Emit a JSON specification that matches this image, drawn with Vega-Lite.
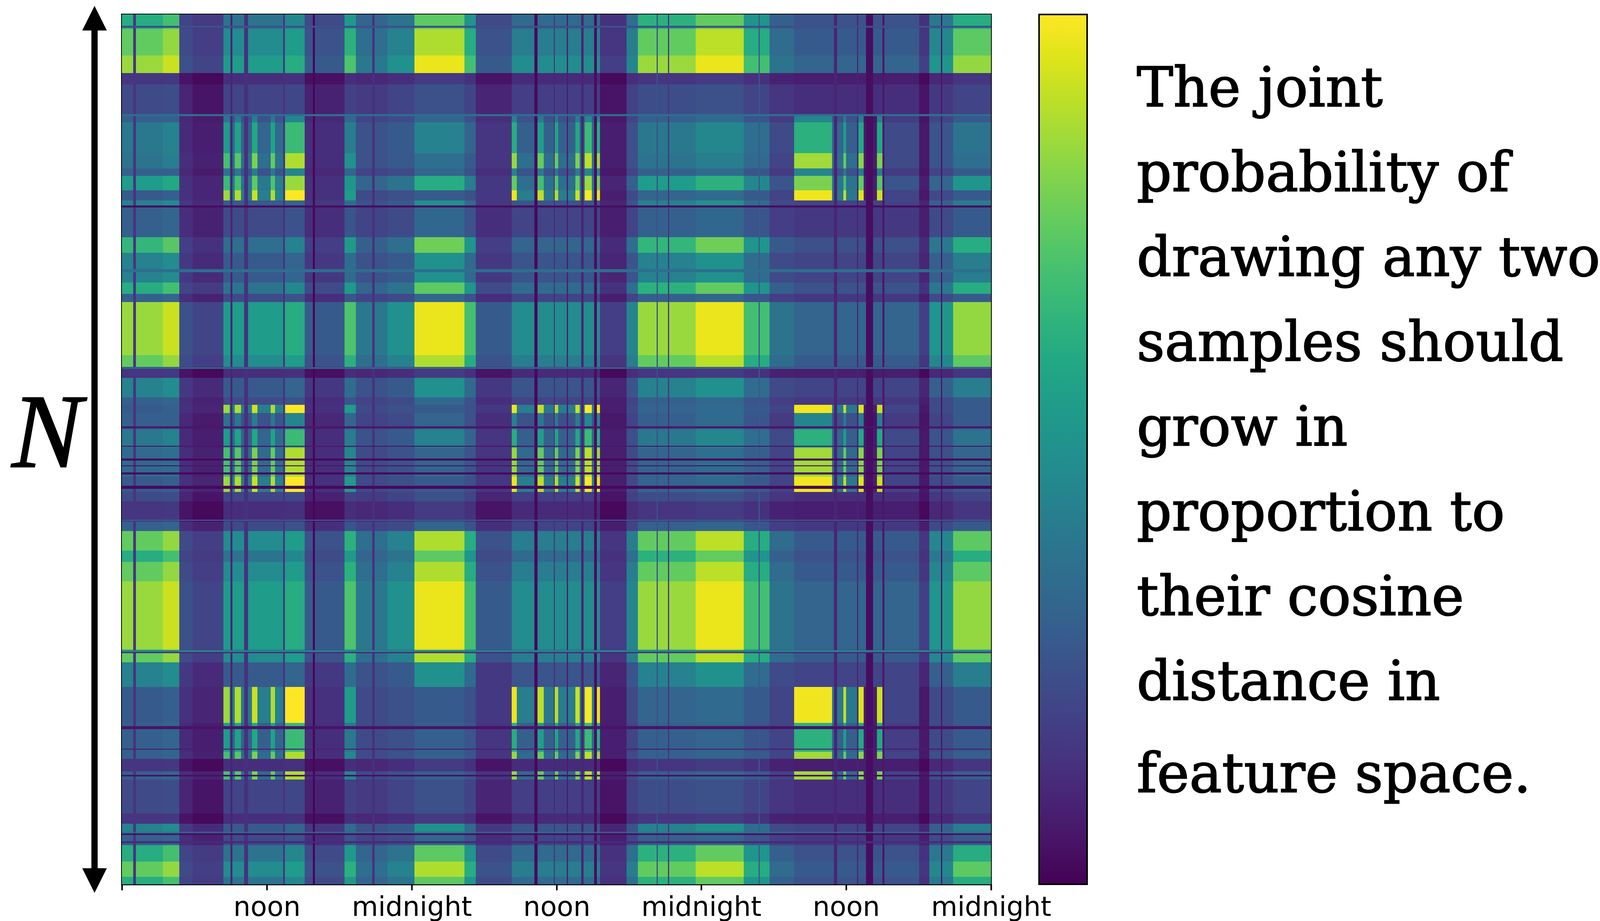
{"$schema":"https://vega.github.io/schema/vega-lite/v6.json","width":2225,"height":2226,"autosize":"none","padding":{"left":312,"top":37,"right":1580,"bottom":94},"background":"white","config":{"view":{"stroke":"black","strokeWidth":4}},"datasets":{"cols":[{"c":0,"a":0,"b":3.40},{"c":1,"a":3.40,"b":4.76},{"c":2,"a":4.76,"b":5.87},{"c":3,"a":5.87,"b":8.42},{"c":4,"a":8.42,"b":13.52},{"c":5,"a":13.52,"b":15.13},{"c":6,"a":15.13,"b":18.45},{"c":7,"a":18.45,"b":19.38},{"c":8,"a":19.38,"b":22.02},{"c":9,"a":22.02,"b":24.23},{"c":10,"a":24.23,"b":28.39},{"c":11,"a":28.39,"b":29.33},{"c":12,"a":29.33,"b":32.30},{"c":13,"a":32.30,"b":39.61},{"c":14,"a":39.61,"b":41.82},{"c":15,"a":41.82,"b":42.76},{"c":16,"a":42.76,"b":47.52},{"c":17,"a":47.52,"b":51.51},{"c":18,"a":51.51,"b":53.64},{"c":19,"a":53.64,"b":55.68},{"c":20,"a":55.68,"b":66.05},{"c":21,"a":66.05,"b":66.90},{"c":22,"a":66.90,"b":68.85},{"c":23,"a":68.85,"b":72},{"c":30,"a":8.42,"b":8.93},{"c":31,"a":8.93,"b":9.35},{"c":32,"a":9.35,"b":9.86},{"c":33,"a":9.86,"b":10.76},{"c":34,"a":10.76,"b":11.22},{"c":35,"a":11.22,"b":12.33},{"c":36,"a":12.33,"b":12.67},{"c":37,"a":12.67,"b":13.52},{"c":38,"a":13.52,"b":15.13},{"c":40,"a":32.30,"b":32.73},{"c":41,"a":32.73,"b":34.43},{"c":42,"a":34.43,"b":34.94},{"c":43,"a":34.94,"b":35.87},{"c":44,"a":35.87,"b":36.13},{"c":45,"a":36.13,"b":37.57},{"c":46,"a":37.57,"b":37.91},{"c":47,"a":37.91,"b":38.34},{"c":48,"a":38.34,"b":38.93},{"c":49,"a":38.93,"b":39.36},{"c":50,"a":39.36,"b":39.61},{"c":51,"a":55.68,"b":58.82},{"c":52,"a":58.82,"b":59.76},{"c":53,"a":59.76,"b":60.01},{"c":54,"a":60.01,"b":61.03},{"c":55,"a":61.03,"b":61.46},{"c":56,"a":61.46,"b":62.56},{"c":57,"a":62.56,"b":62.99},{"c":58,"a":62.99,"b":66.05}],"rows":[{"r":0,"a":0,"b":1.19},{"r":1,"a":1.19,"b":3.40},{"r":2,"a":3.40,"b":4.85},{"r":3,"a":4.85,"b":5.78},{"r":4,"a":5.78,"b":8.25},{"r":5,"a":8.25,"b":8.93},{"r":6,"a":8.93,"b":11.48},{"r":7,"a":11.48,"b":12.75},{"r":8,"a":12.75,"b":13.35},{"r":9,"a":13.35,"b":14.54},{"r":10,"a":14.54,"b":15.39},{"r":11,"a":15.39,"b":15.98},{"r":12,"a":15.98,"b":18.45},{"r":13,"a":18.45,"b":19.72},{"r":14,"a":19.72,"b":22.19},{"r":15,"a":22.19,"b":23.12},{"r":16,"a":23.12,"b":23.80},{"r":17,"a":23.80,"b":28.22},{"r":18,"a":28.22,"b":29.16},{"r":19,"a":29.16,"b":30.09},{"r":20,"a":30.09,"b":31.71},{"r":21,"a":31.71,"b":32.30},{"r":22,"a":32.30,"b":32.98},{"r":23,"a":32.98,"b":34.34},{"r":24,"a":34.34,"b":35.87},{"r":25,"a":35.87,"b":38.25},{"r":26,"a":38.25,"b":39.53},{"r":27,"a":39.53,"b":40.29},{"r":28,"a":40.29,"b":41.99},{"r":29,"a":41.99,"b":42.76},{"r":30,"a":42.76,"b":44.37},{"r":31,"a":44.37,"b":45.31},{"r":32,"a":45.31,"b":46.92},{"r":33,"a":46.92,"b":52.53},{"r":34,"a":52.53,"b":53.64},{"r":35,"a":53.64,"b":55.68},{"r":36,"a":55.68,"b":58.65},{"r":37,"a":58.65,"b":61.03},{"r":38,"a":61.03,"b":61.63},{"r":39,"a":61.63,"b":62.65},{"r":40,"a":62.65,"b":63.33},{"r":41,"a":63.33,"b":66.13},{"r":42,"a":66.13,"b":66.98},{"r":43,"a":66.98,"b":67.83},{"r":44,"a":67.83,"b":68.77},{"r":45,"a":68.77,"b":70.13},{"r":46,"a":70.13,"b":71.40},{"r":47,"a":71.40,"b":72}],"cells":[
{"r":0,"c":0,"v":62},{"r":0,"c":1,"v":70},{"r":0,"c":2,"v":20},{"r":0,"c":3,"v":17},{"r":0,"c":4,"v":38},{"r":0,"c":5,"v":46},{"r":0,"c":6,"v":22},{"r":0,"c":7,"v":54},{"r":0,"c":8,"v":32},{"r":0,"c":9,"v":38},{"r":0,"c":10,"v":75},{"r":0,"c":11,"v":52},{"r":0,"c":12,"v":22},{"r":0,"c":13,"v":34},{"r":0,"c":14,"v":14},{"r":0,"c":15,"v":36},{"r":0,"c":16,"v":64},{"r":0,"c":17,"v":76},{"r":0,"c":18,"v":52},{"r":0,"c":19,"v":30},{"r":0,"c":20,"v":25},{"r":0,"c":21,"v":14},{"r":0,"c":22,"v":40},{"r":0,"c":23,"v":62},
{"r":1,"c":0,"v":76},{"r":1,"c":1,"v":84},{"r":1,"c":2,"v":22},{"r":1,"c":3,"v":18},{"r":1,"c":4,"v":48},{"r":1,"c":5,"v":55},{"r":1,"c":6,"v":25},{"r":1,"c":7,"v":64},{"r":1,"c":8,"v":36},{"r":1,"c":9,"v":44},{"r":1,"c":10,"v":88},{"r":1,"c":11,"v":62},{"r":1,"c":12,"v":25},{"r":1,"c":13,"v":42},{"r":1,"c":14,"v":15},{"r":1,"c":15,"v":42},{"r":1,"c":16,"v":76},{"r":1,"c":17,"v":90},{"r":1,"c":18,"v":62},{"r":1,"c":19,"v":35},{"r":1,"c":20,"v":28},{"r":1,"c":21,"v":15},{"r":1,"c":22,"v":46},{"r":1,"c":23,"v":75},
{"r":2,"c":0,"v":85},{"r":2,"c":1,"v":92},{"r":2,"c":2,"v":24},{"r":2,"c":3,"v":20},{"r":2,"c":4,"v":55},{"r":2,"c":5,"v":62},{"r":2,"c":6,"v":28},{"r":2,"c":7,"v":72},{"r":2,"c":8,"v":40},{"r":2,"c":9,"v":50},{"r":2,"c":10,"v":97},{"r":2,"c":11,"v":70},{"r":2,"c":12,"v":28},{"r":2,"c":13,"v":48},{"r":2,"c":14,"v":18},{"r":2,"c":15,"v":45},{"r":2,"c":16,"v":85},{"r":2,"c":17,"v":97},{"r":2,"c":18,"v":70},{"r":2,"c":19,"v":38},{"r":2,"c":20,"v":32},{"r":2,"c":21,"v":18},{"r":2,"c":22,"v":52},{"r":2,"c":23,"v":84},
{"r":3,"c":0,"v":15},{"r":3,"c":1,"v":16},{"r":3,"c":2,"v":5},{"r":3,"c":3,"v":2},{"r":3,"c":4,"v":13},{"r":3,"c":5,"v":14},{"r":3,"c":6,"v":4},{"r":3,"c":7,"v":13},{"r":3,"c":8,"v":11},{"r":3,"c":9,"v":13},{"r":3,"c":10,"v":17},{"r":3,"c":11,"v":14},{"r":3,"c":12,"v":5},{"r":3,"c":13,"v":12},{"r":3,"c":14,"v":2},{"r":3,"c":15,"v":13},{"r":3,"c":16,"v":15},{"r":3,"c":17,"v":17},{"r":3,"c":18,"v":14},{"r":3,"c":19,"v":9},{"r":3,"c":20,"v":8},{"r":3,"c":21,"v":2},{"r":3,"c":22,"v":11},{"r":3,"c":23,"v":15},
{"r":4,"c":0,"v":22},{"r":4,"c":1,"v":23},{"r":4,"c":2,"v":10},{"r":4,"c":3,"v":5},{"r":4,"c":4,"v":20},{"r":4,"c":5,"v":21},{"r":4,"c":6,"v":9},{"r":4,"c":7,"v":19},{"r":4,"c":8,"v":17},{"r":4,"c":9,"v":20},{"r":4,"c":10,"v":24},{"r":4,"c":11,"v":20},{"r":4,"c":12,"v":10},{"r":4,"c":13,"v":18},{"r":4,"c":14,"v":5},{"r":4,"c":15,"v":19},{"r":4,"c":16,"v":23},{"r":4,"c":17,"v":24},{"r":4,"c":18,"v":20},{"r":4,"c":19,"v":15},{"r":4,"c":20,"v":13},{"r":4,"c":21,"v":5},{"r":4,"c":22,"v":16},{"r":4,"c":23,"v":20},
{"r":5,"c":0,"v":30},{"r":5,"c":1,"v":30},{"r":5,"c":2,"v":11},{"r":5,"c":3,"v":7},{"r":5,"c":30,"v":38},{"r":5,"c":31,"v":25},{"r":5,"c":32,"v":40},{"r":5,"c":33,"v":24},{"r":5,"c":34,"v":42},{"r":5,"c":35,"v":25},{"r":5,"c":36,"v":40},{"r":5,"c":37,"v":26},{"r":5,"c":38,"v":45},{"r":5,"c":6,"v":11},{"r":5,"c":7,"v":32},{"r":5,"c":8,"v":20},{"r":5,"c":9,"v":22},{"r":5,"c":10,"v":32},{"r":5,"c":11,"v":24},{"r":5,"c":12,"v":13},{"r":5,"c":40,"v":44},{"r":5,"c":41,"v":25},{"r":5,"c":42,"v":40},{"r":5,"c":43,"v":24},{"r":5,"c":44,"v":40},{"r":5,"c":45,"v":24},{"r":5,"c":46,"v":42},{"r":5,"c":47,"v":24},{"r":5,"c":48,"v":46},{"r":5,"c":49,"v":26},{"r":5,"c":50,"v":44},{"r":5,"c":14,"v":6},{"r":5,"c":15,"v":20},{"r":5,"c":16,"v":30},{"r":5,"c":17,"v":34},{"r":5,"c":18,"v":26},{"r":5,"c":19,"v":17},{"r":5,"c":51,"v":45},{"r":5,"c":52,"v":24},{"r":5,"c":53,"v":40},{"r":5,"c":54,"v":24},{"r":5,"c":55,"v":42},{"r":5,"c":56,"v":5},{"r":5,"c":57,"v":42},{"r":5,"c":58,"v":17},{"r":5,"c":21,"v":5},{"r":5,"c":22,"v":20},{"r":5,"c":23,"v":28},
{"r":6,"c":0,"v":40},{"r":6,"c":1,"v":44},{"r":6,"c":2,"v":12},{"r":6,"c":3,"v":8},{"r":6,"c":30,"v":55},{"r":6,"c":31,"v":32},{"r":6,"c":32,"v":58},{"r":6,"c":33,"v":30},{"r":6,"c":34,"v":60},{"r":6,"c":35,"v":32},{"r":6,"c":36,"v":58},{"r":6,"c":37,"v":34},{"r":6,"c":38,"v":68},{"r":6,"c":6,"v":13},{"r":6,"c":7,"v":42},{"r":6,"c":8,"v":25},{"r":6,"c":9,"v":28},{"r":6,"c":10,"v":44},{"r":6,"c":11,"v":32},{"r":6,"c":12,"v":15},{"r":6,"c":40,"v":62},{"r":6,"c":41,"v":30},{"r":6,"c":42,"v":56},{"r":6,"c":43,"v":30},{"r":6,"c":44,"v":58},{"r":6,"c":45,"v":30},{"r":6,"c":46,"v":60},{"r":6,"c":47,"v":30},{"r":6,"c":48,"v":68},{"r":6,"c":49,"v":32},{"r":6,"c":50,"v":62},{"r":6,"c":14,"v":8},{"r":6,"c":15,"v":24},{"r":6,"c":16,"v":40},{"r":6,"c":17,"v":46},{"r":6,"c":18,"v":36},{"r":6,"c":19,"v":22},{"r":6,"c":51,"v":64},{"r":6,"c":52,"v":32},{"r":6,"c":53,"v":56},{"r":6,"c":54,"v":30},{"r":6,"c":55,"v":60},{"r":6,"c":56,"v":7},{"r":6,"c":57,"v":60},{"r":6,"c":58,"v":22},{"r":6,"c":21,"v":6},{"r":6,"c":22,"v":26},{"r":6,"c":23,"v":38},
{"r":7,"c":0,"v":38},{"r":7,"c":1,"v":42},{"r":7,"c":2,"v":13},{"r":7,"c":3,"v":9},{"r":7,"c":30,"v":70},{"r":7,"c":31,"v":36},{"r":7,"c":32,"v":74},{"r":7,"c":33,"v":36},{"r":7,"c":34,"v":80},{"r":7,"c":35,"v":36},{"r":7,"c":36,"v":76},{"r":7,"c":37,"v":38},{"r":7,"c":38,"v":88},{"r":7,"c":6,"v":13},{"r":7,"c":7,"v":50},{"r":7,"c":8,"v":25},{"r":7,"c":9,"v":28},{"r":7,"c":10,"v":36},{"r":7,"c":11,"v":28},{"r":7,"c":12,"v":15},{"r":7,"c":40,"v":84},{"r":7,"c":41,"v":36},{"r":7,"c":42,"v":76},{"r":7,"c":43,"v":36},{"r":7,"c":44,"v":76},{"r":7,"c":45,"v":36},{"r":7,"c":46,"v":80},{"r":7,"c":47,"v":36},{"r":7,"c":48,"v":90},{"r":7,"c":49,"v":38},{"r":7,"c":50,"v":84},{"r":7,"c":14,"v":8},{"r":7,"c":15,"v":24},{"r":7,"c":16,"v":38},{"r":7,"c":17,"v":42},{"r":7,"c":18,"v":34},{"r":7,"c":19,"v":20},{"r":7,"c":51,"v":86},{"r":7,"c":52,"v":36},{"r":7,"c":53,"v":76},{"r":7,"c":54,"v":36},{"r":7,"c":55,"v":82},{"r":7,"c":56,"v":8},{"r":7,"c":57,"v":80},{"r":7,"c":58,"v":22},{"r":7,"c":21,"v":6},{"r":7,"c":22,"v":26},{"r":7,"c":23,"v":36},
{"r":8,"c":0,"v":30},{"r":8,"c":1,"v":30},{"r":8,"c":2,"v":11},{"r":8,"c":3,"v":7},{"r":8,"c":30,"v":38},{"r":8,"c":31,"v":25},{"r":8,"c":32,"v":40},{"r":8,"c":33,"v":24},{"r":8,"c":34,"v":42},{"r":8,"c":35,"v":25},{"r":8,"c":36,"v":40},{"r":8,"c":37,"v":26},{"r":8,"c":38,"v":45},{"r":8,"c":6,"v":11},{"r":8,"c":7,"v":32},{"r":8,"c":8,"v":20},{"r":8,"c":9,"v":22},{"r":8,"c":10,"v":32},{"r":8,"c":11,"v":24},{"r":8,"c":12,"v":13},{"r":8,"c":40,"v":44},{"r":8,"c":41,"v":25},{"r":8,"c":42,"v":40},{"r":8,"c":43,"v":24},{"r":8,"c":44,"v":40},{"r":8,"c":45,"v":24},{"r":8,"c":46,"v":42},{"r":8,"c":47,"v":24},{"r":8,"c":48,"v":46},{"r":8,"c":49,"v":26},{"r":8,"c":50,"v":44},{"r":8,"c":14,"v":6},{"r":8,"c":15,"v":20},{"r":8,"c":16,"v":30},{"r":8,"c":17,"v":34},{"r":8,"c":18,"v":26},{"r":8,"c":19,"v":17},{"r":8,"c":51,"v":45},{"r":8,"c":52,"v":24},{"r":8,"c":53,"v":40},{"r":8,"c":54,"v":24},{"r":8,"c":55,"v":42},{"r":8,"c":56,"v":5},{"r":8,"c":57,"v":42},{"r":8,"c":58,"v":17},{"r":8,"c":21,"v":5},{"r":8,"c":22,"v":20},{"r":8,"c":23,"v":28},
{"r":9,"c":0,"v":55},{"r":9,"c":1,"v":60},{"r":9,"c":2,"v":14},{"r":9,"c":3,"v":10},{"r":9,"c":30,"v":68},{"r":9,"c":31,"v":40},{"r":9,"c":32,"v":70},{"r":9,"c":33,"v":38},{"r":9,"c":34,"v":75},{"r":9,"c":35,"v":40},{"r":9,"c":36,"v":72},{"r":9,"c":37,"v":42},{"r":9,"c":38,"v":85},{"r":9,"c":6,"v":14},{"r":9,"c":7,"v":52},{"r":9,"c":8,"v":32},{"r":9,"c":9,"v":38},{"r":9,"c":10,"v":62},{"r":9,"c":11,"v":42},{"r":9,"c":12,"v":16},{"r":9,"c":40,"v":76},{"r":9,"c":41,"v":36},{"r":9,"c":42,"v":70},{"r":9,"c":43,"v":36},{"r":9,"c":44,"v":72},{"r":9,"c":45,"v":36},{"r":9,"c":46,"v":76},{"r":9,"c":47,"v":36},{"r":9,"c":48,"v":85},{"r":9,"c":49,"v":38},{"r":9,"c":50,"v":78},{"r":9,"c":14,"v":10},{"r":9,"c":15,"v":30},{"r":9,"c":16,"v":55},{"r":9,"c":17,"v":64},{"r":9,"c":18,"v":46},{"r":9,"c":19,"v":26},{"r":9,"c":51,"v":80},{"r":9,"c":52,"v":38},{"r":9,"c":53,"v":70},{"r":9,"c":54,"v":38},{"r":9,"c":55,"v":76},{"r":9,"c":56,"v":8},{"r":9,"c":57,"v":74},{"r":9,"c":58,"v":26},{"r":9,"c":21,"v":8},{"r":9,"c":22,"v":32},{"r":9,"c":23,"v":52},
{"r":10,"c":0,"v":28},{"r":10,"c":1,"v":30},{"r":10,"c":2,"v":14},{"r":10,"c":3,"v":10},{"r":10,"c":30,"v":85},{"r":10,"c":31,"v":42},{"r":10,"c":32,"v":88},{"r":10,"c":33,"v":40},{"r":10,"c":34,"v":92},{"r":10,"c":35,"v":42},{"r":10,"c":36,"v":88},{"r":10,"c":37,"v":44},{"r":10,"c":38,"v":100},{"r":10,"c":6,"v":14},{"r":10,"c":7,"v":55},{"r":10,"c":8,"v":22},{"r":10,"c":9,"v":24},{"r":10,"c":10,"v":28},{"r":10,"c":11,"v":24},{"r":10,"c":12,"v":16},{"r":10,"c":40,"v":97},{"r":10,"c":41,"v":42},{"r":10,"c":42,"v":90},{"r":10,"c":43,"v":40},{"r":10,"c":44,"v":88},{"r":10,"c":45,"v":42},{"r":10,"c":46,"v":92},{"r":10,"c":47,"v":40},{"r":10,"c":48,"v":100},{"r":10,"c":49,"v":44},{"r":10,"c":50,"v":96},{"r":10,"c":14,"v":8},{"r":10,"c":15,"v":22},{"r":10,"c":16,"v":32},{"r":10,"c":17,"v":34},{"r":10,"c":18,"v":28},{"r":10,"c":19,"v":20},{"r":10,"c":51,"v":98},{"r":10,"c":52,"v":40},{"r":10,"c":53,"v":90},{"r":10,"c":54,"v":40},{"r":10,"c":55,"v":95},{"r":10,"c":56,"v":8},{"r":10,"c":57,"v":92},{"r":10,"c":58,"v":20},{"r":10,"c":21,"v":6},{"r":10,"c":22,"v":22},{"r":10,"c":23,"v":28},
{"r":11,"c":0,"v":44},{"r":11,"c":1,"v":48},{"r":11,"c":2,"v":16},{"r":11,"c":3,"v":12},{"r":11,"c":4,"v":28},{"r":11,"c":5,"v":32},{"r":11,"c":6,"v":16},{"r":11,"c":7,"v":35},{"r":11,"c":8,"v":25},{"r":11,"c":9,"v":28},{"r":11,"c":10,"v":50},{"r":11,"c":11,"v":34},{"r":11,"c":12,"v":16},{"r":11,"c":13,"v":26},{"r":11,"c":14,"v":10},{"r":11,"c":15,"v":26},{"r":11,"c":16,"v":44},{"r":11,"c":17,"v":50},{"r":11,"c":18,"v":35},{"r":11,"c":19,"v":22},{"r":11,"c":20,"v":20},{"r":11,"c":21,"v":10},{"r":11,"c":22,"v":30},{"r":11,"c":23,"v":42},
{"r":12,"c":0,"v":30},{"r":12,"c":1,"v":32},{"r":12,"c":2,"v":13},{"r":12,"c":3,"v":9},{"r":12,"c":4,"v":22},{"r":12,"c":5,"v":25},{"r":12,"c":6,"v":13},{"r":12,"c":7,"v":26},{"r":12,"c":8,"v":20},{"r":12,"c":9,"v":22},{"r":12,"c":10,"v":33},{"r":12,"c":11,"v":25},{"r":12,"c":12,"v":13},{"r":12,"c":13,"v":20},{"r":12,"c":14,"v":8},{"r":12,"c":15,"v":20},{"r":12,"c":16,"v":30},{"r":12,"c":17,"v":33},{"r":12,"c":18,"v":26},{"r":12,"c":19,"v":18},{"r":12,"c":20,"v":16},{"r":12,"c":21,"v":8},{"r":12,"c":22,"v":22},{"r":12,"c":23,"v":28},
{"r":13,"c":0,"v":66},{"r":13,"c":1,"v":74},{"r":13,"c":2,"v":18},{"r":13,"c":3,"v":14},{"r":13,"c":4,"v":36},{"r":13,"c":5,"v":44},{"r":13,"c":6,"v":18},{"r":13,"c":7,"v":54},{"r":13,"c":8,"v":30},{"r":13,"c":9,"v":36},{"r":13,"c":10,"v":78},{"r":13,"c":11,"v":52},{"r":13,"c":12,"v":18},{"r":13,"c":13,"v":32},{"r":13,"c":14,"v":12},{"r":13,"c":15,"v":36},{"r":13,"c":16,"v":66},{"r":13,"c":17,"v":78},{"r":13,"c":18,"v":52},{"r":13,"c":19,"v":28},{"r":13,"c":20,"v":24},{"r":13,"c":21,"v":12},{"r":13,"c":22,"v":40},{"r":13,"c":23,"v":62},
{"r":14,"c":0,"v":44},{"r":14,"c":1,"v":48},{"r":14,"c":2,"v":16},{"r":14,"c":3,"v":12},{"r":14,"c":4,"v":28},{"r":14,"c":5,"v":32},{"r":14,"c":6,"v":16},{"r":14,"c":7,"v":35},{"r":14,"c":8,"v":25},{"r":14,"c":9,"v":28},{"r":14,"c":10,"v":50},{"r":14,"c":11,"v":34},{"r":14,"c":12,"v":16},{"r":14,"c":13,"v":26},{"r":14,"c":14,"v":10},{"r":14,"c":15,"v":26},{"r":14,"c":16,"v":44},{"r":14,"c":17,"v":50},{"r":14,"c":18,"v":35},{"r":14,"c":19,"v":22},{"r":14,"c":20,"v":20},{"r":14,"c":21,"v":10},{"r":14,"c":22,"v":30},{"r":14,"c":23,"v":42},
{"r":15,"c":0,"v":62},{"r":15,"c":1,"v":70},{"r":15,"c":2,"v":20},{"r":15,"c":3,"v":17},{"r":15,"c":4,"v":38},{"r":15,"c":5,"v":46},{"r":15,"c":6,"v":22},{"r":15,"c":7,"v":54},{"r":15,"c":8,"v":32},{"r":15,"c":9,"v":38},{"r":15,"c":10,"v":75},{"r":15,"c":11,"v":52},{"r":15,"c":12,"v":22},{"r":15,"c":13,"v":34},{"r":15,"c":14,"v":14},{"r":15,"c":15,"v":36},{"r":15,"c":16,"v":64},{"r":15,"c":17,"v":76},{"r":15,"c":18,"v":52},{"r":15,"c":19,"v":30},{"r":15,"c":20,"v":25},{"r":15,"c":21,"v":14},{"r":15,"c":22,"v":40},{"r":15,"c":23,"v":62},
{"r":16,"c":0,"v":30},{"r":16,"c":1,"v":32},{"r":16,"c":2,"v":13},{"r":16,"c":3,"v":9},{"r":16,"c":4,"v":22},{"r":16,"c":5,"v":25},{"r":16,"c":6,"v":13},{"r":16,"c":7,"v":26},{"r":16,"c":8,"v":20},{"r":16,"c":9,"v":22},{"r":16,"c":10,"v":33},{"r":16,"c":11,"v":25},{"r":16,"c":12,"v":13},{"r":16,"c":13,"v":20},{"r":16,"c":14,"v":8},{"r":16,"c":15,"v":20},{"r":16,"c":16,"v":30},{"r":16,"c":17,"v":33},{"r":16,"c":18,"v":26},{"r":16,"c":19,"v":18},{"r":16,"c":20,"v":16},{"r":16,"c":21,"v":8},{"r":16,"c":22,"v":22},{"r":16,"c":23,"v":28},
{"r":17,"c":0,"v":85},{"r":17,"c":1,"v":92},{"r":17,"c":2,"v":24},{"r":17,"c":3,"v":20},{"r":17,"c":4,"v":55},{"r":17,"c":5,"v":62},{"r":17,"c":6,"v":28},{"r":17,"c":7,"v":72},{"r":17,"c":8,"v":40},{"r":17,"c":9,"v":50},{"r":17,"c":10,"v":97},{"r":17,"c":11,"v":70},{"r":17,"c":12,"v":28},{"r":17,"c":13,"v":48},{"r":17,"c":14,"v":18},{"r":17,"c":15,"v":45},{"r":17,"c":16,"v":85},{"r":17,"c":17,"v":97},{"r":17,"c":18,"v":70},{"r":17,"c":19,"v":38},{"r":17,"c":20,"v":32},{"r":17,"c":21,"v":18},{"r":17,"c":22,"v":52},{"r":17,"c":23,"v":84},
{"r":18,"c":0,"v":76},{"r":18,"c":1,"v":84},{"r":18,"c":2,"v":22},{"r":18,"c":3,"v":18},{"r":18,"c":4,"v":48},{"r":18,"c":5,"v":55},{"r":18,"c":6,"v":25},{"r":18,"c":7,"v":64},{"r":18,"c":8,"v":36},{"r":18,"c":9,"v":44},{"r":18,"c":10,"v":88},{"r":18,"c":11,"v":62},{"r":18,"c":12,"v":25},{"r":18,"c":13,"v":42},{"r":18,"c":14,"v":15},{"r":18,"c":15,"v":42},{"r":18,"c":16,"v":76},{"r":18,"c":17,"v":90},{"r":18,"c":18,"v":62},{"r":18,"c":19,"v":35},{"r":18,"c":20,"v":28},{"r":18,"c":21,"v":15},{"r":18,"c":22,"v":46},{"r":18,"c":23,"v":75},
{"r":19,"c":0,"v":15},{"r":19,"c":1,"v":16},{"r":19,"c":2,"v":5},{"r":19,"c":3,"v":2},{"r":19,"c":4,"v":13},{"r":19,"c":5,"v":14},{"r":19,"c":6,"v":4},{"r":19,"c":7,"v":13},{"r":19,"c":8,"v":11},{"r":19,"c":9,"v":13},{"r":19,"c":10,"v":17},{"r":19,"c":11,"v":14},{"r":19,"c":12,"v":5},{"r":19,"c":13,"v":12},{"r":19,"c":14,"v":2},{"r":19,"c":15,"v":13},{"r":19,"c":16,"v":15},{"r":19,"c":17,"v":17},{"r":19,"c":18,"v":14},{"r":19,"c":19,"v":9},{"r":19,"c":20,"v":8},{"r":19,"c":21,"v":2},{"r":19,"c":22,"v":11},{"r":19,"c":23,"v":15},
{"r":20,"c":0,"v":44},{"r":20,"c":1,"v":48},{"r":20,"c":2,"v":16},{"r":20,"c":3,"v":12},{"r":20,"c":4,"v":28},{"r":20,"c":5,"v":32},{"r":20,"c":6,"v":16},{"r":20,"c":7,"v":35},{"r":20,"c":8,"v":25},{"r":20,"c":9,"v":28},{"r":20,"c":10,"v":50},{"r":20,"c":11,"v":34},{"r":20,"c":12,"v":16},{"r":20,"c":13,"v":26},{"r":20,"c":14,"v":10},{"r":20,"c":15,"v":26},{"r":20,"c":16,"v":44},{"r":20,"c":17,"v":50},{"r":20,"c":18,"v":35},{"r":20,"c":19,"v":22},{"r":20,"c":20,"v":20},{"r":20,"c":21,"v":10},{"r":20,"c":22,"v":30},{"r":20,"c":23,"v":42},
{"r":21,"c":0,"v":30},{"r":21,"c":1,"v":32},{"r":21,"c":2,"v":13},{"r":21,"c":3,"v":9},{"r":21,"c":4,"v":22},{"r":21,"c":5,"v":25},{"r":21,"c":6,"v":13},{"r":21,"c":7,"v":26},{"r":21,"c":8,"v":20},{"r":21,"c":9,"v":22},{"r":21,"c":10,"v":33},{"r":21,"c":11,"v":25},{"r":21,"c":12,"v":13},{"r":21,"c":13,"v":20},{"r":21,"c":14,"v":8},{"r":21,"c":15,"v":20},{"r":21,"c":16,"v":30},{"r":21,"c":17,"v":33},{"r":21,"c":18,"v":26},{"r":21,"c":19,"v":18},{"r":21,"c":20,"v":16},{"r":21,"c":21,"v":8},{"r":21,"c":22,"v":22},{"r":21,"c":23,"v":28},
{"r":22,"c":0,"v":28},{"r":22,"c":1,"v":30},{"r":22,"c":2,"v":14},{"r":22,"c":3,"v":10},{"r":22,"c":30,"v":85},{"r":22,"c":31,"v":42},{"r":22,"c":32,"v":88},{"r":22,"c":33,"v":40},{"r":22,"c":34,"v":92},{"r":22,"c":35,"v":42},{"r":22,"c":36,"v":88},{"r":22,"c":37,"v":44},{"r":22,"c":38,"v":100},{"r":22,"c":6,"v":14},{"r":22,"c":7,"v":55},{"r":22,"c":8,"v":22},{"r":22,"c":9,"v":24},{"r":22,"c":10,"v":28},{"r":22,"c":11,"v":24},{"r":22,"c":12,"v":16},{"r":22,"c":40,"v":97},{"r":22,"c":41,"v":42},{"r":22,"c":42,"v":90},{"r":22,"c":43,"v":40},{"r":22,"c":44,"v":88},{"r":22,"c":45,"v":42},{"r":22,"c":46,"v":92},{"r":22,"c":47,"v":40},{"r":22,"c":48,"v":100},{"r":22,"c":49,"v":44},{"r":22,"c":50,"v":96},{"r":22,"c":14,"v":8},{"r":22,"c":15,"v":22},{"r":22,"c":16,"v":32},{"r":22,"c":17,"v":34},{"r":22,"c":18,"v":28},{"r":22,"c":19,"v":20},{"r":22,"c":51,"v":98},{"r":22,"c":52,"v":40},{"r":22,"c":53,"v":90},{"r":22,"c":54,"v":40},{"r":22,"c":55,"v":95},{"r":22,"c":56,"v":8},{"r":22,"c":57,"v":92},{"r":22,"c":58,"v":20},{"r":22,"c":21,"v":6},{"r":22,"c":22,"v":22},{"r":22,"c":23,"v":28},
{"r":23,"c":0,"v":30},{"r":23,"c":1,"v":30},{"r":23,"c":2,"v":11},{"r":23,"c":3,"v":7},{"r":23,"c":30,"v":38},{"r":23,"c":31,"v":25},{"r":23,"c":32,"v":40},{"r":23,"c":33,"v":24},{"r":23,"c":34,"v":42},{"r":23,"c":35,"v":25},{"r":23,"c":36,"v":40},{"r":23,"c":37,"v":26},{"r":23,"c":38,"v":45},{"r":23,"c":6,"v":11},{"r":23,"c":7,"v":32},{"r":23,"c":8,"v":20},{"r":23,"c":9,"v":22},{"r":23,"c":10,"v":32},{"r":23,"c":11,"v":24},{"r":23,"c":12,"v":13},{"r":23,"c":40,"v":44},{"r":23,"c":41,"v":25},{"r":23,"c":42,"v":40},{"r":23,"c":43,"v":24},{"r":23,"c":44,"v":40},{"r":23,"c":45,"v":24},{"r":23,"c":46,"v":42},{"r":23,"c":47,"v":24},{"r":23,"c":48,"v":46},{"r":23,"c":49,"v":26},{"r":23,"c":50,"v":44},{"r":23,"c":14,"v":6},{"r":23,"c":15,"v":20},{"r":23,"c":16,"v":30},{"r":23,"c":17,"v":34},{"r":23,"c":18,"v":26},{"r":23,"c":19,"v":17},{"r":23,"c":51,"v":45},{"r":23,"c":52,"v":24},{"r":23,"c":53,"v":40},{"r":23,"c":54,"v":24},{"r":23,"c":55,"v":42},{"r":23,"c":56,"v":5},{"r":23,"c":57,"v":42},{"r":23,"c":58,"v":17},{"r":23,"c":21,"v":5},{"r":23,"c":22,"v":20},{"r":23,"c":23,"v":28},
{"r":24,"c":0,"v":40},{"r":24,"c":1,"v":44},{"r":24,"c":2,"v":12},{"r":24,"c":3,"v":8},{"r":24,"c":30,"v":55},{"r":24,"c":31,"v":32},{"r":24,"c":32,"v":58},{"r":24,"c":33,"v":30},{"r":24,"c":34,"v":60},{"r":24,"c":35,"v":32},{"r":24,"c":36,"v":58},{"r":24,"c":37,"v":34},{"r":24,"c":38,"v":68},{"r":24,"c":6,"v":13},{"r":24,"c":7,"v":42},{"r":24,"c":8,"v":25},{"r":24,"c":9,"v":28},{"r":24,"c":10,"v":44},{"r":24,"c":11,"v":32},{"r":24,"c":12,"v":15},{"r":24,"c":40,"v":62},{"r":24,"c":41,"v":30},{"r":24,"c":42,"v":56},{"r":24,"c":43,"v":30},{"r":24,"c":44,"v":58},{"r":24,"c":45,"v":30},{"r":24,"c":46,"v":60},{"r":24,"c":47,"v":30},{"r":24,"c":48,"v":68},{"r":24,"c":49,"v":32},{"r":24,"c":50,"v":62},{"r":24,"c":14,"v":8},{"r":24,"c":15,"v":24},{"r":24,"c":16,"v":40},{"r":24,"c":17,"v":46},{"r":24,"c":18,"v":36},{"r":24,"c":19,"v":22},{"r":24,"c":51,"v":64},{"r":24,"c":52,"v":32},{"r":24,"c":53,"v":56},{"r":24,"c":54,"v":30},{"r":24,"c":55,"v":60},{"r":24,"c":56,"v":7},{"r":24,"c":57,"v":60},{"r":24,"c":58,"v":22},{"r":24,"c":21,"v":6},{"r":24,"c":22,"v":26},{"r":24,"c":23,"v":38},
{"r":25,"c":0,"v":34},{"r":25,"c":1,"v":36},{"r":25,"c":2,"v":13},{"r":25,"c":3,"v":9},{"r":25,"c":30,"v":70},{"r":25,"c":31,"v":34},{"r":25,"c":32,"v":74},{"r":25,"c":33,"v":34},{"r":25,"c":34,"v":80},{"r":25,"c":35,"v":34},{"r":25,"c":36,"v":76},{"r":25,"c":37,"v":36},{"r":25,"c":38,"v":88},{"r":25,"c":6,"v":13},{"r":25,"c":7,"v":46},{"r":25,"c":8,"v":22},{"r":25,"c":9,"v":25},{"r":25,"c":10,"v":32},{"r":25,"c":11,"v":26},{"r":25,"c":12,"v":15},{"r":25,"c":40,"v":84},{"r":25,"c":41,"v":34},{"r":25,"c":42,"v":76},{"r":25,"c":43,"v":34},{"r":25,"c":44,"v":76},{"r":25,"c":45,"v":34},{"r":25,"c":46,"v":80},{"r":25,"c":47,"v":34},{"r":25,"c":48,"v":90},{"r":25,"c":49,"v":36},{"r":25,"c":50,"v":84},{"r":25,"c":14,"v":8},{"r":25,"c":15,"v":22},{"r":25,"c":16,"v":32},{"r":25,"c":17,"v":36},{"r":25,"c":18,"v":30},{"r":25,"c":19,"v":20},{"r":25,"c":51,"v":86},{"r":25,"c":52,"v":34},{"r":25,"c":53,"v":76},{"r":25,"c":54,"v":34},{"r":25,"c":55,"v":82},{"r":25,"c":56,"v":8},{"r":25,"c":57,"v":80},{"r":25,"c":58,"v":20},{"r":25,"c":21,"v":6},{"r":25,"c":22,"v":24},{"r":25,"c":23,"v":32},
{"r":26,"c":0,"v":28},{"r":26,"c":1,"v":30},{"r":26,"c":2,"v":14},{"r":26,"c":3,"v":10},{"r":26,"c":30,"v":85},{"r":26,"c":31,"v":42},{"r":26,"c":32,"v":88},{"r":26,"c":33,"v":40},{"r":26,"c":34,"v":92},{"r":26,"c":35,"v":42},{"r":26,"c":36,"v":88},{"r":26,"c":37,"v":44},{"r":26,"c":38,"v":100},{"r":26,"c":6,"v":14},{"r":26,"c":7,"v":55},{"r":26,"c":8,"v":22},{"r":26,"c":9,"v":24},{"r":26,"c":10,"v":28},{"r":26,"c":11,"v":24},{"r":26,"c":12,"v":16},{"r":26,"c":40,"v":97},{"r":26,"c":41,"v":42},{"r":26,"c":42,"v":90},{"r":26,"c":43,"v":40},{"r":26,"c":44,"v":88},{"r":26,"c":45,"v":42},{"r":26,"c":46,"v":92},{"r":26,"c":47,"v":40},{"r":26,"c":48,"v":100},{"r":26,"c":49,"v":44},{"r":26,"c":50,"v":96},{"r":26,"c":14,"v":8},{"r":26,"c":15,"v":22},{"r":26,"c":16,"v":32},{"r":26,"c":17,"v":34},{"r":26,"c":18,"v":28},{"r":26,"c":19,"v":20},{"r":26,"c":51,"v":98},{"r":26,"c":52,"v":40},{"r":26,"c":53,"v":90},{"r":26,"c":54,"v":40},{"r":26,"c":55,"v":95},{"r":26,"c":56,"v":8},{"r":26,"c":57,"v":92},{"r":26,"c":58,"v":20},{"r":26,"c":21,"v":6},{"r":26,"c":22,"v":22},{"r":26,"c":23,"v":28},
{"r":27,"c":0,"v":22},{"r":27,"c":1,"v":23},{"r":27,"c":2,"v":10},{"r":27,"c":3,"v":5},{"r":27,"c":4,"v":20},{"r":27,"c":5,"v":21},{"r":27,"c":6,"v":9},{"r":27,"c":7,"v":19},{"r":27,"c":8,"v":17},{"r":27,"c":9,"v":20},{"r":27,"c":10,"v":24},{"r":27,"c":11,"v":20},{"r":27,"c":12,"v":10},{"r":27,"c":13,"v":18},{"r":27,"c":14,"v":5},{"r":27,"c":15,"v":19},{"r":27,"c":16,"v":23},{"r":27,"c":17,"v":24},{"r":27,"c":18,"v":20},{"r":27,"c":19,"v":15},{"r":27,"c":20,"v":13},{"r":27,"c":21,"v":5},{"r":27,"c":22,"v":16},{"r":27,"c":23,"v":20},
{"r":28,"c":0,"v":15},{"r":28,"c":1,"v":16},{"r":28,"c":2,"v":5},{"r":28,"c":3,"v":2},{"r":28,"c":4,"v":13},{"r":28,"c":5,"v":14},{"r":28,"c":6,"v":4},{"r":28,"c":7,"v":13},{"r":28,"c":8,"v":11},{"r":28,"c":9,"v":13},{"r":28,"c":10,"v":17},{"r":28,"c":11,"v":14},{"r":28,"c":12,"v":5},{"r":28,"c":13,"v":12},{"r":28,"c":14,"v":2},{"r":28,"c":15,"v":13},{"r":28,"c":16,"v":15},{"r":28,"c":17,"v":17},{"r":28,"c":18,"v":14},{"r":28,"c":19,"v":9},{"r":28,"c":20,"v":8},{"r":28,"c":21,"v":2},{"r":28,"c":22,"v":11},{"r":28,"c":23,"v":15},
{"r":29,"c":0,"v":30},{"r":29,"c":1,"v":32},{"r":29,"c":2,"v":13},{"r":29,"c":3,"v":9},{"r":29,"c":4,"v":22},{"r":29,"c":5,"v":25},{"r":29,"c":6,"v":13},{"r":29,"c":7,"v":26},{"r":29,"c":8,"v":20},{"r":29,"c":9,"v":22},{"r":29,"c":10,"v":33},{"r":29,"c":11,"v":25},{"r":29,"c":12,"v":13},{"r":29,"c":13,"v":20},{"r":29,"c":14,"v":8},{"r":29,"c":15,"v":20},{"r":29,"c":16,"v":30},{"r":29,"c":17,"v":33},{"r":29,"c":18,"v":26},{"r":29,"c":19,"v":18},{"r":29,"c":20,"v":16},{"r":29,"c":21,"v":8},{"r":29,"c":22,"v":22},{"r":29,"c":23,"v":28},
{"r":30,"c":0,"v":76},{"r":30,"c":1,"v":84},{"r":30,"c":2,"v":22},{"r":30,"c":3,"v":18},{"r":30,"c":4,"v":48},{"r":30,"c":5,"v":55},{"r":30,"c":6,"v":25},{"r":30,"c":7,"v":64},{"r":30,"c":8,"v":36},{"r":30,"c":9,"v":44},{"r":30,"c":10,"v":88},{"r":30,"c":11,"v":62},{"r":30,"c":12,"v":25},{"r":30,"c":13,"v":42},{"r":30,"c":14,"v":15},{"r":30,"c":15,"v":42},{"r":30,"c":16,"v":76},{"r":30,"c":17,"v":90},{"r":30,"c":18,"v":62},{"r":30,"c":19,"v":35},{"r":30,"c":20,"v":28},{"r":30,"c":21,"v":15},{"r":30,"c":22,"v":46},{"r":30,"c":23,"v":75},
{"r":31,"c":0,"v":62},{"r":31,"c":1,"v":70},{"r":31,"c":2,"v":20},{"r":31,"c":3,"v":17},{"r":31,"c":4,"v":38},{"r":31,"c":5,"v":46},{"r":31,"c":6,"v":22},{"r":31,"c":7,"v":54},{"r":31,"c":8,"v":32},{"r":31,"c":9,"v":38},{"r":31,"c":10,"v":75},{"r":31,"c":11,"v":52},{"r":31,"c":12,"v":22},{"r":31,"c":13,"v":34},{"r":31,"c":14,"v":14},{"r":31,"c":15,"v":36},{"r":31,"c":16,"v":64},{"r":31,"c":17,"v":76},{"r":31,"c":18,"v":52},{"r":31,"c":19,"v":30},{"r":31,"c":20,"v":25},{"r":31,"c":21,"v":14},{"r":31,"c":22,"v":40},{"r":31,"c":23,"v":62},
{"r":32,"c":0,"v":76},{"r":32,"c":1,"v":84},{"r":32,"c":2,"v":22},{"r":32,"c":3,"v":18},{"r":32,"c":4,"v":48},{"r":32,"c":5,"v":55},{"r":32,"c":6,"v":25},{"r":32,"c":7,"v":64},{"r":32,"c":8,"v":36},{"r":32,"c":9,"v":44},{"r":32,"c":10,"v":88},{"r":32,"c":11,"v":62},{"r":32,"c":12,"v":25},{"r":32,"c":13,"v":42},{"r":32,"c":14,"v":15},{"r":32,"c":15,"v":42},{"r":32,"c":16,"v":76},{"r":32,"c":17,"v":90},{"r":32,"c":18,"v":62},{"r":32,"c":19,"v":35},{"r":32,"c":20,"v":28},{"r":32,"c":21,"v":15},{"r":32,"c":22,"v":46},{"r":32,"c":23,"v":75},
{"r":33,"c":0,"v":85},{"r":33,"c":1,"v":92},{"r":33,"c":2,"v":24},{"r":33,"c":3,"v":20},{"r":33,"c":4,"v":55},{"r":33,"c":5,"v":62},{"r":33,"c":6,"v":28},{"r":33,"c":7,"v":72},{"r":33,"c":8,"v":40},{"r":33,"c":9,"v":50},{"r":33,"c":10,"v":97},{"r":33,"c":11,"v":70},{"r":33,"c":12,"v":28},{"r":33,"c":13,"v":48},{"r":33,"c":14,"v":18},{"r":33,"c":15,"v":45},{"r":33,"c":16,"v":85},{"r":33,"c":17,"v":97},{"r":33,"c":18,"v":70},{"r":33,"c":19,"v":38},{"r":33,"c":20,"v":32},{"r":33,"c":21,"v":18},{"r":33,"c":22,"v":52},{"r":33,"c":23,"v":84},
{"r":34,"c":0,"v":76},{"r":34,"c":1,"v":84},{"r":34,"c":2,"v":22},{"r":34,"c":3,"v":18},{"r":34,"c":4,"v":48},{"r":34,"c":5,"v":55},{"r":34,"c":6,"v":25},{"r":34,"c":7,"v":64},{"r":34,"c":8,"v":36},{"r":34,"c":9,"v":44},{"r":34,"c":10,"v":88},{"r":34,"c":11,"v":62},{"r":34,"c":12,"v":25},{"r":34,"c":13,"v":42},{"r":34,"c":14,"v":15},{"r":34,"c":15,"v":42},{"r":34,"c":16,"v":76},{"r":34,"c":17,"v":90},{"r":34,"c":18,"v":62},{"r":34,"c":19,"v":35},{"r":34,"c":20,"v":28},{"r":34,"c":21,"v":15},{"r":34,"c":22,"v":46},{"r":34,"c":23,"v":75},
{"r":35,"c":0,"v":44},{"r":35,"c":1,"v":48},{"r":35,"c":2,"v":16},{"r":35,"c":3,"v":12},{"r":35,"c":4,"v":28},{"r":35,"c":5,"v":32},{"r":35,"c":6,"v":16},{"r":35,"c":7,"v":35},{"r":35,"c":8,"v":25},{"r":35,"c":9,"v":28},{"r":35,"c":10,"v":50},{"r":35,"c":11,"v":34},{"r":35,"c":12,"v":16},{"r":35,"c":13,"v":26},{"r":35,"c":14,"v":10},{"r":35,"c":15,"v":26},{"r":35,"c":16,"v":44},{"r":35,"c":17,"v":50},{"r":35,"c":18,"v":35},{"r":35,"c":19,"v":22},{"r":35,"c":20,"v":20},{"r":35,"c":21,"v":10},{"r":35,"c":22,"v":30},{"r":35,"c":23,"v":42},
{"r":36,"c":0,"v":28},{"r":36,"c":1,"v":30},{"r":36,"c":2,"v":14},{"r":36,"c":3,"v":10},{"r":36,"c":30,"v":85},{"r":36,"c":31,"v":42},{"r":36,"c":32,"v":88},{"r":36,"c":33,"v":40},{"r":36,"c":34,"v":92},{"r":36,"c":35,"v":42},{"r":36,"c":36,"v":88},{"r":36,"c":37,"v":44},{"r":36,"c":38,"v":100},{"r":36,"c":6,"v":14},{"r":36,"c":7,"v":55},{"r":36,"c":8,"v":22},{"r":36,"c":9,"v":24},{"r":36,"c":10,"v":28},{"r":36,"c":11,"v":24},{"r":36,"c":12,"v":16},{"r":36,"c":40,"v":97},{"r":36,"c":41,"v":42},{"r":36,"c":42,"v":90},{"r":36,"c":43,"v":40},{"r":36,"c":44,"v":88},{"r":36,"c":45,"v":42},{"r":36,"c":46,"v":92},{"r":36,"c":47,"v":40},{"r":36,"c":48,"v":100},{"r":36,"c":49,"v":44},{"r":36,"c":50,"v":96},{"r":36,"c":14,"v":8},{"r":36,"c":15,"v":22},{"r":36,"c":16,"v":32},{"r":36,"c":17,"v":34},{"r":36,"c":18,"v":28},{"r":36,"c":19,"v":20},{"r":36,"c":51,"v":98},{"r":36,"c":52,"v":40},{"r":36,"c":53,"v":90},{"r":36,"c":54,"v":40},{"r":36,"c":55,"v":95},{"r":36,"c":56,"v":8},{"r":36,"c":57,"v":92},{"r":36,"c":58,"v":20},{"r":36,"c":21,"v":6},{"r":36,"c":22,"v":22},{"r":36,"c":23,"v":28},
{"r":37,"c":0,"v":30},{"r":37,"c":1,"v":32},{"r":37,"c":2,"v":12},{"r":37,"c":3,"v":8},{"r":37,"c":30,"v":55},{"r":37,"c":31,"v":30},{"r":37,"c":32,"v":58},{"r":37,"c":33,"v":30},{"r":37,"c":34,"v":60},{"r":37,"c":35,"v":30},{"r":37,"c":36,"v":58},{"r":37,"c":37,"v":32},{"r":37,"c":38,"v":68},{"r":37,"c":6,"v":13},{"r":37,"c":7,"v":40},{"r":37,"c":8,"v":22},{"r":37,"c":9,"v":24},{"r":37,"c":10,"v":30},{"r":37,"c":11,"v":26},{"r":37,"c":12,"v":15},{"r":37,"c":40,"v":62},{"r":37,"c":41,"v":30},{"r":37,"c":42,"v":56},{"r":37,"c":43,"v":30},{"r":37,"c":44,"v":58},{"r":37,"c":45,"v":30},{"r":37,"c":46,"v":60},{"r":37,"c":47,"v":30},{"r":37,"c":48,"v":68},{"r":37,"c":49,"v":32},{"r":37,"c":50,"v":62},{"r":37,"c":14,"v":8},{"r":37,"c":15,"v":20},{"r":37,"c":16,"v":30},{"r":37,"c":17,"v":32},{"r":37,"c":18,"v":26},{"r":37,"c":19,"v":20},{"r":37,"c":51,"v":64},{"r":37,"c":52,"v":30},{"r":37,"c":53,"v":56},{"r":37,"c":54,"v":30},{"r":37,"c":55,"v":60},{"r":37,"c":56,"v":7},{"r":37,"c":57,"v":60},{"r":37,"c":58,"v":18},{"r":37,"c":21,"v":6},{"r":37,"c":22,"v":22},{"r":37,"c":23,"v":28},
{"r":38,"c":0,"v":30},{"r":38,"c":1,"v":32},{"r":38,"c":2,"v":13},{"r":38,"c":3,"v":9},{"r":38,"c":30,"v":70},{"r":38,"c":31,"v":34},{"r":38,"c":32,"v":74},{"r":38,"c":33,"v":34},{"r":38,"c":34,"v":80},{"r":38,"c":35,"v":34},{"r":38,"c":36,"v":76},{"r":38,"c":37,"v":36},{"r":38,"c":38,"v":88},{"r":38,"c":6,"v":13},{"r":38,"c":7,"v":46},{"r":38,"c":8,"v":22},{"r":38,"c":9,"v":25},{"r":38,"c":10,"v":30},{"r":38,"c":11,"v":26},{"r":38,"c":12,"v":15},{"r":38,"c":40,"v":84},{"r":38,"c":41,"v":34},{"r":38,"c":42,"v":76},{"r":38,"c":43,"v":34},{"r":38,"c":44,"v":76},{"r":38,"c":45,"v":34},{"r":38,"c":46,"v":80},{"r":38,"c":47,"v":34},{"r":38,"c":48,"v":90},{"r":38,"c":49,"v":36},{"r":38,"c":50,"v":84},{"r":38,"c":14,"v":8},{"r":38,"c":15,"v":22},{"r":38,"c":16,"v":30},{"r":38,"c":17,"v":32},{"r":38,"c":18,"v":28},{"r":38,"c":19,"v":20},{"r":38,"c":51,"v":86},{"r":38,"c":52,"v":34},{"r":38,"c":53,"v":76},{"r":38,"c":54,"v":34},{"r":38,"c":55,"v":82},{"r":38,"c":56,"v":8},{"r":38,"c":57,"v":80},{"r":38,"c":58,"v":20},{"r":38,"c":21,"v":6},{"r":38,"c":22,"v":24},{"r":38,"c":23,"v":30},
{"r":39,"c":0,"v":15},{"r":39,"c":1,"v":16},{"r":39,"c":2,"v":5},{"r":39,"c":3,"v":2},{"r":39,"c":4,"v":13},{"r":39,"c":5,"v":14},{"r":39,"c":6,"v":4},{"r":39,"c":7,"v":13},{"r":39,"c":8,"v":11},{"r":39,"c":9,"v":13},{"r":39,"c":10,"v":17},{"r":39,"c":11,"v":14},{"r":39,"c":12,"v":5},{"r":39,"c":13,"v":12},{"r":39,"c":14,"v":2},{"r":39,"c":15,"v":13},{"r":39,"c":16,"v":15},{"r":39,"c":17,"v":17},{"r":39,"c":18,"v":14},{"r":39,"c":19,"v":9},{"r":39,"c":20,"v":8},{"r":39,"c":21,"v":2},{"r":39,"c":22,"v":11},{"r":39,"c":23,"v":15},
{"r":40,"c":0,"v":30},{"r":40,"c":1,"v":32},{"r":40,"c":2,"v":13},{"r":40,"c":3,"v":9},{"r":40,"c":30,"v":70},{"r":40,"c":31,"v":34},{"r":40,"c":32,"v":74},{"r":40,"c":33,"v":34},{"r":40,"c":34,"v":80},{"r":40,"c":35,"v":34},{"r":40,"c":36,"v":76},{"r":40,"c":37,"v":36},{"r":40,"c":38,"v":88},{"r":40,"c":6,"v":13},{"r":40,"c":7,"v":46},{"r":40,"c":8,"v":22},{"r":40,"c":9,"v":25},{"r":40,"c":10,"v":30},{"r":40,"c":11,"v":26},{"r":40,"c":12,"v":15},{"r":40,"c":40,"v":84},{"r":40,"c":41,"v":34},{"r":40,"c":42,"v":76},{"r":40,"c":43,"v":34},{"r":40,"c":44,"v":76},{"r":40,"c":45,"v":34},{"r":40,"c":46,"v":80},{"r":40,"c":47,"v":34},{"r":40,"c":48,"v":90},{"r":40,"c":49,"v":36},{"r":40,"c":50,"v":84},{"r":40,"c":14,"v":8},{"r":40,"c":15,"v":22},{"r":40,"c":16,"v":30},{"r":40,"c":17,"v":32},{"r":40,"c":18,"v":28},{"r":40,"c":19,"v":20},{"r":40,"c":51,"v":86},{"r":40,"c":52,"v":34},{"r":40,"c":53,"v":76},{"r":40,"c":54,"v":34},{"r":40,"c":55,"v":82},{"r":40,"c":56,"v":8},{"r":40,"c":57,"v":80},{"r":40,"c":58,"v":20},{"r":40,"c":21,"v":6},{"r":40,"c":22,"v":24},{"r":40,"c":23,"v":30},
{"r":41,"c":0,"v":22},{"r":41,"c":1,"v":23},{"r":41,"c":2,"v":10},{"r":41,"c":3,"v":5},{"r":41,"c":4,"v":20},{"r":41,"c":5,"v":21},{"r":41,"c":6,"v":9},{"r":41,"c":7,"v":19},{"r":41,"c":8,"v":17},{"r":41,"c":9,"v":20},{"r":41,"c":10,"v":24},{"r":41,"c":11,"v":20},{"r":41,"c":12,"v":10},{"r":41,"c":13,"v":18},{"r":41,"c":14,"v":5},{"r":41,"c":15,"v":19},{"r":41,"c":16,"v":23},{"r":41,"c":17,"v":24},{"r":41,"c":18,"v":20},{"r":41,"c":19,"v":15},{"r":41,"c":20,"v":13},{"r":41,"c":21,"v":5},{"r":41,"c":22,"v":16},{"r":41,"c":23,"v":20},
{"r":42,"c":0,"v":15},{"r":42,"c":1,"v":16},{"r":42,"c":2,"v":5},{"r":42,"c":3,"v":2},{"r":42,"c":4,"v":13},{"r":42,"c":5,"v":14},{"r":42,"c":6,"v":4},{"r":42,"c":7,"v":13},{"r":42,"c":8,"v":11},{"r":42,"c":9,"v":13},{"r":42,"c":10,"v":17},{"r":42,"c":11,"v":14},{"r":42,"c":12,"v":5},{"r":42,"c":13,"v":12},{"r":42,"c":14,"v":2},{"r":42,"c":15,"v":13},{"r":42,"c":16,"v":15},{"r":42,"c":17,"v":17},{"r":42,"c":18,"v":14},{"r":42,"c":19,"v":9},{"r":42,"c":20,"v":8},{"r":42,"c":21,"v":2},{"r":42,"c":22,"v":11},{"r":42,"c":23,"v":15},
{"r":43,"c":0,"v":44},{"r":43,"c":1,"v":48},{"r":43,"c":2,"v":16},{"r":43,"c":3,"v":12},{"r":43,"c":4,"v":28},{"r":43,"c":5,"v":32},{"r":43,"c":6,"v":16},{"r":43,"c":7,"v":35},{"r":43,"c":8,"v":25},{"r":43,"c":9,"v":28},{"r":43,"c":10,"v":50},{"r":43,"c":11,"v":34},{"r":43,"c":12,"v":16},{"r":43,"c":13,"v":26},{"r":43,"c":14,"v":10},{"r":43,"c":15,"v":26},{"r":43,"c":16,"v":44},{"r":43,"c":17,"v":50},{"r":43,"c":18,"v":35},{"r":43,"c":19,"v":22},{"r":43,"c":20,"v":20},{"r":43,"c":21,"v":10},{"r":43,"c":22,"v":30},{"r":43,"c":23,"v":42},
{"r":44,"c":0,"v":30},{"r":44,"c":1,"v":32},{"r":44,"c":2,"v":13},{"r":44,"c":3,"v":9},{"r":44,"c":4,"v":22},{"r":44,"c":5,"v":25},{"r":44,"c":6,"v":13},{"r":44,"c":7,"v":26},{"r":44,"c":8,"v":20},{"r":44,"c":9,"v":22},{"r":44,"c":10,"v":33},{"r":44,"c":11,"v":25},{"r":44,"c":12,"v":13},{"r":44,"c":13,"v":20},{"r":44,"c":14,"v":8},{"r":44,"c":15,"v":20},{"r":44,"c":16,"v":30},{"r":44,"c":17,"v":33},{"r":44,"c":18,"v":26},{"r":44,"c":19,"v":18},{"r":44,"c":20,"v":16},{"r":44,"c":21,"v":8},{"r":44,"c":22,"v":22},{"r":44,"c":23,"v":28},
{"r":45,"c":0,"v":62},{"r":45,"c":1,"v":70},{"r":45,"c":2,"v":20},{"r":45,"c":3,"v":17},{"r":45,"c":4,"v":38},{"r":45,"c":5,"v":46},{"r":45,"c":6,"v":22},{"r":45,"c":7,"v":54},{"r":45,"c":8,"v":32},{"r":45,"c":9,"v":38},{"r":45,"c":10,"v":75},{"r":45,"c":11,"v":52},{"r":45,"c":12,"v":22},{"r":45,"c":13,"v":34},{"r":45,"c":14,"v":14},{"r":45,"c":15,"v":36},{"r":45,"c":16,"v":64},{"r":45,"c":17,"v":76},{"r":45,"c":18,"v":52},{"r":45,"c":19,"v":30},{"r":45,"c":20,"v":25},{"r":45,"c":21,"v":14},{"r":45,"c":22,"v":40},{"r":45,"c":23,"v":62},
{"r":46,"c":0,"v":76},{"r":46,"c":1,"v":84},{"r":46,"c":2,"v":22},{"r":46,"c":3,"v":18},{"r":46,"c":4,"v":48},{"r":46,"c":5,"v":55},{"r":46,"c":6,"v":25},{"r":46,"c":7,"v":64},{"r":46,"c":8,"v":36},{"r":46,"c":9,"v":44},{"r":46,"c":10,"v":88},{"r":46,"c":11,"v":62},{"r":46,"c":12,"v":25},{"r":46,"c":13,"v":42},{"r":46,"c":14,"v":15},{"r":46,"c":15,"v":42},{"r":46,"c":16,"v":76},{"r":46,"c":17,"v":90},{"r":46,"c":18,"v":62},{"r":46,"c":19,"v":35},{"r":46,"c":20,"v":28},{"r":46,"c":21,"v":15},{"r":46,"c":22,"v":46},{"r":46,"c":23,"v":75},
{"r":47,"c":0,"v":62},{"r":47,"c":1,"v":70},{"r":47,"c":2,"v":20},{"r":47,"c":3,"v":17},{"r":47,"c":4,"v":38},{"r":47,"c":5,"v":46},{"r":47,"c":6,"v":22},{"r":47,"c":7,"v":54},{"r":47,"c":8,"v":32},{"r":47,"c":9,"v":38},{"r":47,"c":10,"v":75},{"r":47,"c":11,"v":52},{"r":47,"c":12,"v":22},{"r":47,"c":13,"v":34},{"r":47,"c":14,"v":14},{"r":47,"c":15,"v":36},{"r":47,"c":16,"v":64},{"r":47,"c":17,"v":76},{"r":47,"c":18,"v":52},{"r":47,"c":19,"v":30},{"r":47,"c":20,"v":25},{"r":47,"c":21,"v":14},{"r":47,"c":22,"v":40},{"r":47,"c":23,"v":62}
],"hl":[{"a":0.94,"b":1.10,"v":24},{"a":8.25,"b":8.42,"v":36},{"a":15.81,"b":15.98,"v":3},{"a":21.08,"b":21.34,"v":36},{"a":29.2,"b":29.33,"v":34},{"a":34.09,"b":34.26,"v":6},{"a":35.7,"b":35.79,"v":6},{"a":36.76,"b":36.93,"v":2},{"a":37.32,"b":37.4,"v":5},{"a":37.91,"b":38.08,"v":2},{"a":39.02,"b":39.27,"v":2},{"a":41.82,"b":41.91,"v":30},{"a":52.62,"b":52.79,"v":42},{"a":52.79,"b":52.87,"v":8},{"a":58.91,"b":59.16,"v":5},{"a":60.78,"b":60.86,"v":8},{"a":62.94,"b":63.07,"v":4},{"a":67.66,"b":67.75,"v":36},{"a":67.79,"b":67.92,"v":3},{"a":68.43,"b":68.6,"v":12}],"vl":[{"a":0.94,"b":1.15,"v":15},{"a":8.98,"b":9.15,"v":10},{"a":10.14,"b":10.46,"v":14},{"a":13.36,"b":13.5,"v":14},{"a":15.81,"b":15.98,"v":1},{"a":20.74,"b":20.95,"v":14},{"a":34.17,"b":34.43,"v":2},{"a":35.79,"b":35.87,"v":10},{"a":36.85,"b":36.97,"v":8},{"a":38.05,"b":38.25,"v":10},{"a":39.12,"b":39.35,"v":3},{"a":44.3,"b":44.4,"v":25},{"a":45.25,"b":45.35,"v":15},{"a":52.74,"b":52.84,"v":28},{"a":58.99,"b":59.25,"v":10},{"a":60.9,"b":61.0,"v":10},{"a":61.63,"b":62.22,"v":3},{"a":63.0,"b":63.15,"v":6},{"a":67.85,"b":67.95,"v":5}],"lines":[{"line":1,"text":"The joint"},{"line":2,"text":"probability of"},{"line":3,"text":"drawing any two"},{"line":4,"text":"samples should"},{"line":5,"text":"grow in"},{"line":6,"text":"proportion to"},{"line":7,"text":"their cosine"},{"line":8,"text":"distance in"},{"line":9,"text":"feature space."}],"nlabel":[{"text":"N"}],"one":[{"k":1}]},"resolve":{"scale":{"y":"independent"}},"layer":[{"data":{"name":"cells"},"transform":[{"lookup":"c","from":{"data":{"name":"cols"},"key":"c","fields":["a","b"]},"as":["x0","x1"]},{"lookup":"r","from":{"data":{"name":"rows"},"key":"r","fields":["a","b"]},"as":["y0","y1"]}],"mark":{"type":"rect"},"encoding":{"x":{"field":"x0","type":"quantitative","scale":{"domain":[0,72],"nice":false,"round":true},"axis":{"values":[0,12,24,36,48,60,72],"title":null,"grid":false,"labelFont":"DejaVu Sans","labelFontSize":69,"labelColor":"black","labelLimit":1000,"labelExpr":"datum.value==0?'':(datum.value%24==12?'noon':'midnight')","labelPadding":10,"tickSize":15,"tickWidth":4,"tickColor":"black","domainColor":"black","domainWidth":4,"labelOverlap":false,"labelBound":false,"labelFlush":false}},"x2":{"field":"x1"},"y":{"field":"y0","type":"quantitative","scale":{"domain":[0,72],"nice":false,"reverse":true,"round":true},"axis":null},"y2":{"field":"y1"},"color":{"field":"v","type":"quantitative","scale":{"scheme":"viridis","domain":[0,100]},"legend":{"orient":"none","legendX":2348,"legendY":0,"direction":"vertical","gradientLength":2226,"gradientThickness":123,"gradientStrokeColor":"black","gradientStrokeWidth":4,"title":null,"labelOpacity":0,"labelFontSize":1,"tickCount":2}}}},{"data":{"name":"vl"},"mark":{"type":"rect"},"encoding":{"x":{"field":"a","type":"quantitative"},"x2":{"field":"b"},"color":{"field":"v","type":"quantitative"}}},{"data":{"name":"hl"},"mark":{"type":"rect"},"encoding":{"y":{"field":"a","type":"quantitative","scale":{"domain":[0,72],"nice":false,"reverse":true},"axis":null},"y2":{"field":"b"},"color":{"field":"v","type":"quantitative"}}},{"data":{"name":"one"},"mark":{"type":"rule","strokeWidth":16,"color":"black","clip":false},"encoding":{"x":{"datum":-2.28},"y":{"datum":1,"scale":{"domain":[0,72],"nice":false,"reverse":true},"axis":null},"y2":{"datum":71}}},{"data":{"name":"one"},"mark":{"type":"point","filled":true,"color":"black","opacity":1,"size":15876,"shape":"M0 -0.5L0.5 0.5L-0.5 0.5Z","clip":false},"encoding":{"x":{"datum":-2.28},"y":{"datum":0.31,"scale":{"domain":[0,72],"nice":false,"reverse":true},"axis":null}}},{"data":{"name":"one"},"mark":{"type":"point","filled":true,"color":"black","opacity":1,"size":15876,"shape":"M0 0.5L0.5 -0.5L-0.5 -0.5Z","clip":false},"encoding":{"x":{"datum":-2.28},"y":{"datum":71.69,"scale":{"domain":[0,72],"nice":false,"reverse":true},"axis":null}}},{"data":{"name":"nlabel"},"mark":{"type":"text","font":"Liberation Serif","fontStyle":"italic","fontSize":270,"align":"center","baseline":"alphabetic","color":"black","stroke":"black","strokeWidth":3,"clip":false},"encoding":{"x":{"datum":-6.2},"y":{"datum":37.45,"scale":{"domain":[0,72],"nice":false,"reverse":true},"axis":null},"text":{"field":"text"}}},{"data":{"name":"lines"},"mark":{"type":"text","font":"DejaVu Serif","fontSize":140,"align":"left","baseline":"alphabetic","color":"black","stroke":"black","strokeWidth":2.5,"clip":false},"encoding":{"x":{"datum":84.07},"y":{"field":"line","type":"quantitative","scale":{"domain":[1,8,9],"range":[235,1754,1990],"nice":false,"zero":false},"axis":null},"text":{"field":"text"}}}]}
